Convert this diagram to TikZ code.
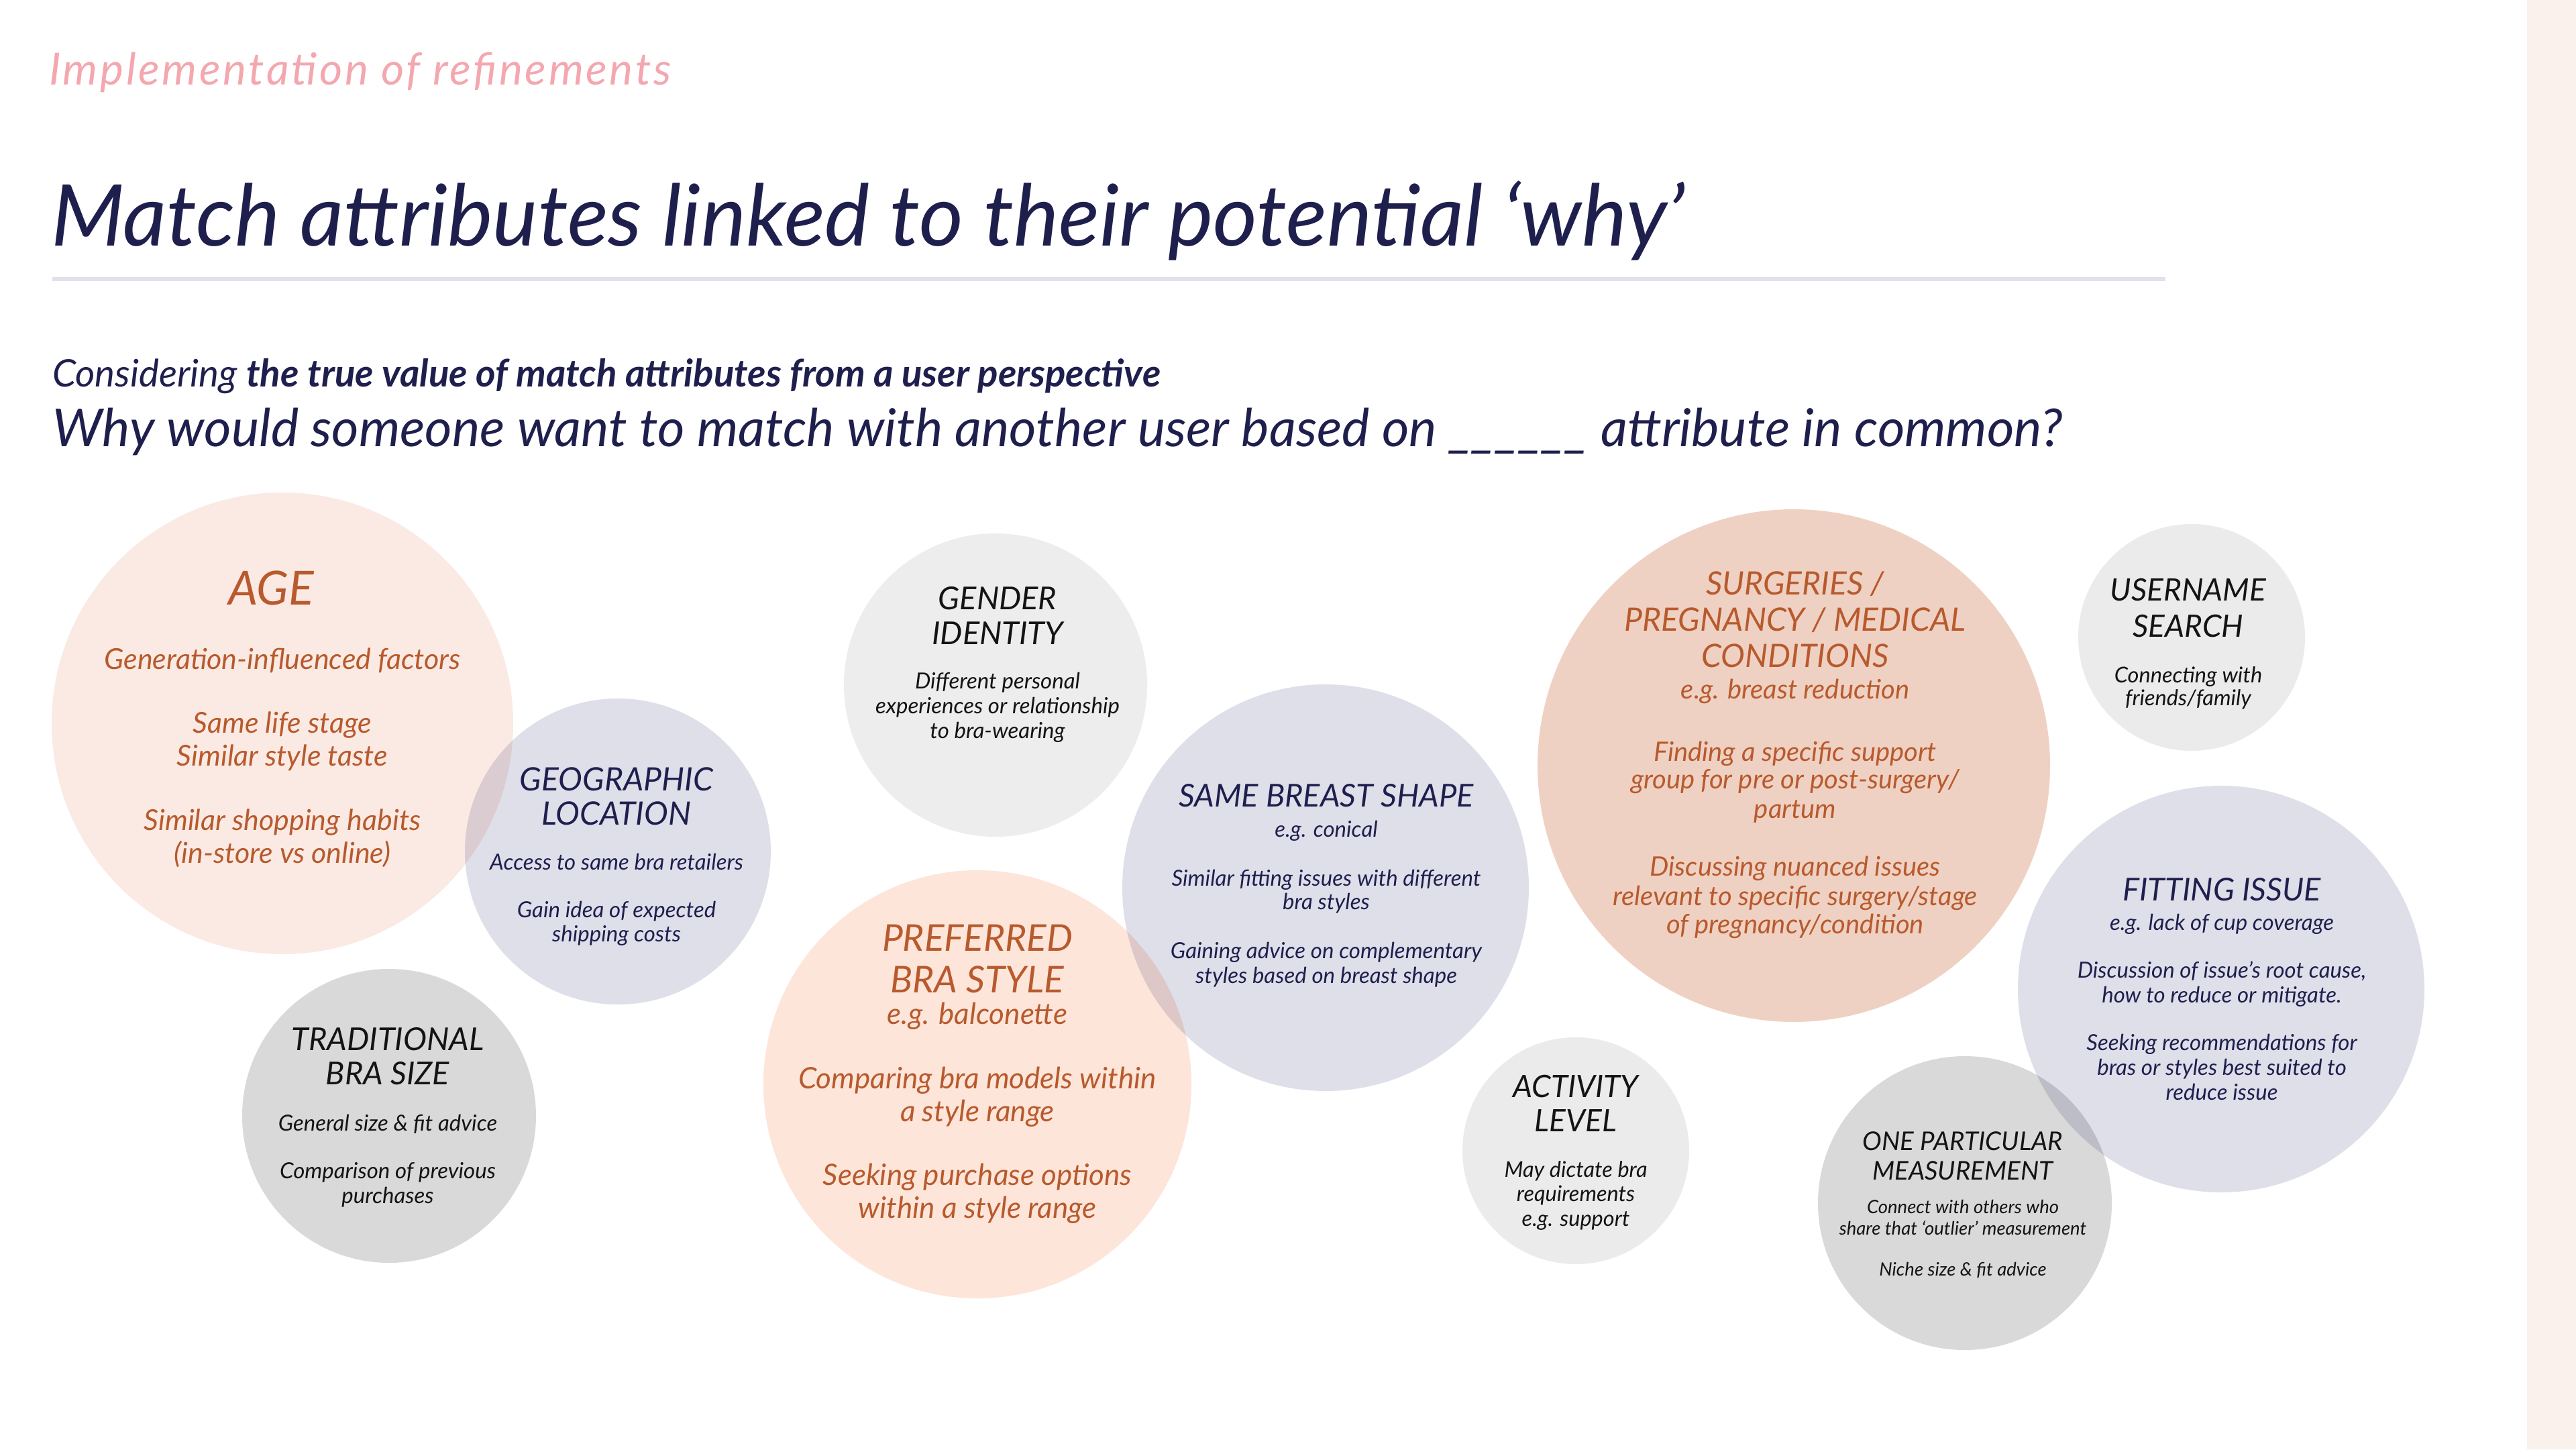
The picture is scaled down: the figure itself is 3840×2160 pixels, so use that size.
\documentclass[tikz,border=0pt]{standalone}
\usepackage{fontspec}
\setmainfont{Lato}[Ligatures=TeX]
\definecolor{navy}{HTML}{1F1F4E}
\definecolor{pinkt}{HTML}{F4A7AF}
\definecolor{orng}{HTML}{B85A2D}
\definecolor{ink}{HTML}{141414}
\definecolor{rulec}{HTML}{E1E1EC}
\definecolor{strip}{HTML}{FAF0EC}
\definecolor{peachA}{HTML}{FAEAE3}
\definecolor{peachB}{HTML}{FDE5D9}
\definecolor{peachC}{HTML}{EFD1C3}
\definecolor{lav}{HTML}{DFDFEA}
\definecolor{grayL}{HTML}{EDEDED}
\definecolor{grayM}{HTML}{EBEBEB}
\definecolor{grayD}{HTML}{D9D9D9}
\tikzset{
  bubble/.style={circle, inner sep=0pt, draw=none},
  tx/.style={inner sep=0pt, anchor=base, align=center},
  agehead/.style={tx, text=orng, font=\fontsize{70}{76}\selectfont\itshape, yshift=-24pt},
  agebody/.style={tx, text=orng, font=\fontsize{43}{48}\selectfont\itshape, yshift=-12pt},
  geohead/.style={tx, text=navy, font=\fontsize{48}{54}\selectfont\itshape, yshift=-17pt},
  geobody/.style={tx, text=navy, font=\fontsize{33}{38}\selectfont\itshape, yshift=-10pt},
  blkhead/.style={tx, text=ink, font=\fontsize{47}{52}\selectfont\itshape, yshift=-17pt},
  blkbody/.style={tx, text=ink, font=\fontsize{33}{38}\selectfont\itshape, yshift=-10pt},
  prefhead/.style={tx, text=orng, font=\fontsize{55}{62}\selectfont\itshape, yshift=-19pt},
  prefbody/.style={tx, text=orng, font=\fontsize{44}{50}\selectfont\itshape, yshift=-13pt},
  shapehead/.style={tx, text=navy, font=\fontsize{47}{52}\selectfont\itshape, yshift=-17pt},
  shapebody/.style={tx, text=navy, font=\fontsize{33}{38}\selectfont\itshape, yshift=-10pt},
  cblkhead/.style={tx, text=ink, font=\fontsize{46}{52}\selectfont\itshape, yshift=-16pt},
  cblkbody/.style={tx, text=ink, font=\fontsize{32.5}{38}\selectfont\itshape, yshift=-10pt},
  onehead/.style={tx, text=ink, font=\fontsize{38.5}{44}\selectfont\itshape, yshift=-14pt},
  onebody/.style={tx, text=ink, font=\fontsize{27.5}{32}\selectfont\itshape, yshift=-8pt},
  surghead/.style={tx, text=orng, font=\fontsize{48}{54}\selectfont\itshape, yshift=-17pt},
  surgbody/.style={tx, text=orng, font=\fontsize{40}{46}\selectfont\itshape, yshift=-12pt},
}
\begin{document}
\begin{tikzpicture}[x=1pt,y=-1pt]
\useasboundingbox (0,0) rectangle (3840,2160);
\fill[white] (0,0) rectangle (3840,2160);
\fill[strip] (3767,0) rectangle (3840,2160);

% headings
\node[anchor=base west, inner sep=0pt, text=pinkt, font=\fontsize{66}{72}\selectfont\itshape\addfontfeature{LetterSpace=5.5}] (kicker) at (73,126) {Implementation of refinements};
\node[anchor=base west, inner sep=0pt, text=navy, font=\fontsize{127}{134}\selectfont\itshape] (title) at (76,366) {Match attributes linked to their potential ‘why’};
\draw[rulec, line width=5.5pt] (78,416) -- (3228,416);
\node[anchor=base west, inner sep=0pt, text=navy, font=\fontsize{56.5}{62}\selectfont\itshape] (sub1) at (78,576) {Considering \bfseries the true value of match attributes from a user perspective};
\node[anchor=base west, inner sep=0pt, text=navy, font=\fontsize{78}{86}\selectfont\itshape] (sub2) at (78,665) {Why would someone want to match with another user based on \_\_\_\_\_\_ attribute in common?};

% bubbles
\node[bubble, fill=peachA, minimum size=688pt] (age) at (421,1078) {};
\node[bubble, fill=grayL, minimum size=452pt] (gender) at (1484,1021) {};
\node[bubble, fill=peachB, minimum size=638pt] (pref) at (1457,1616) {};
\node[bubble, fill=peachC, minimum size=764pt] (surg) at (2674,1141) {};
\node[bubble, fill=grayM, minimum size=338pt] (user) at (3267,950) {};
\node[bubble, fill=grayM, minimum size=338pt] (act) at (2349,1715) {};
\node[bubble, fill=grayD, minimum size=438pt] (trad) at (580,1663) {};
\node[bubble, fill=lav, minimum size=606pt] (fit) at (3311,1474) {};
\begin{scope}[blend mode=multiply]
\node[bubble, fill=lav, minimum size=456pt] (geo) at (921,1269) {};
\node[bubble, fill=lav, minimum size=606pt] (shape) at (1976,1323) {};
\node[bubble, fill=grayD, minimum size=438pt] (one) at (2929,1793) {};
\end{scope}

% AGE
\node[agehead] (ageT) at (404,877) {AGE};
\node[agebody] (age1) at (421,985) {Generation-influenced factors};
\node[agebody] (age2) at (421,1080) {Same life stage};
\node[agebody] (age3) at (421,1129) {Similar style taste};
\node[agebody] (age4) at (421,1225) {Similar shopping habits};
\node[agebody] (age5) at (421,1274) {(in-store vs online)};

% GEOGRAPHIC
\node[geohead] (geoT1) at (919,1161) {GEOGRAPHIC};
\node[geohead] (geoT2) at (919,1212) {LOCATION};
\node[geobody] (geo1) at (919,1286) {Access to same bra retailers};
\node[geobody] (geo2) at (919,1357) {Gain idea of expected};
\node[geobody] (geo3) at (919,1393) {shipping costs};

% TRADITIONAL
\node[blkhead] (tradT1) at (578,1548) {TRADITIONAL};
\node[blkhead] (tradT2) at (578,1599) {BRA SIZE};
\node[blkbody] (trad1) at (578,1675) {General size \& fit advice};
\node[blkbody] (trad2) at (578,1746) {Comparison of previous};
\node[blkbody] (trad3) at (578,1783) {purchases};

% GENDER
\node[blkhead] (genT1) at (1487,891) {GENDER};
\node[blkhead] (genT2) at (1487,943) {IDENTITY};
\node[blkbody] (gen1) at (1487,1016) {Different personal};
\node[blkbody] (gen2) at (1487,1053) {experiences or relationship};
\node[blkbody] (gen3) at (1487,1090) {to bra-wearing};

% PREFERRED
\node[prefhead] (prefT1) at (1457,1398) {PREFERRED};
\node[prefhead] (prefT2) at (1457,1460) {BRA STYLE};
\node[prefbody] (pref0) at (1457,1513) {e.g. balconette};
\node[prefbody] (pref1) at (1457,1609) {Comparing bra models within};
\node[prefbody] (pref2) at (1457,1658) {a style range};
\node[prefbody] (pref3) at (1457,1753) {Seeking purchase options};
\node[prefbody] (pref4) at (1457,1802) {within a style range};

% SAME BREAST SHAPE
\node[shapehead] (shapeT) at (1977,1185) {SAME BREAST SHAPE};
\node[shapebody] (shape0) at (1977,1237) {e.g. conical};
\node[shapebody] (shape1) at (1977,1310) {Similar fitting issues with different};
\node[shapebody] (shape2) at (1977,1345) {bra styles};
\node[shapebody] (shape3) at (1977,1418) {Gaining advice on complementary};
\node[shapebody] (shape4) at (1977,1455) {styles based on breast shape};

% ACTIVITY
\node[cblkhead] (actT1) at (2349,1619) {ACTIVITY};
\node[cblkhead] (actT2) at (2349,1670) {LEVEL};
\node[cblkbody] (act1) at (2349,1744) {May dictate bra};
\node[cblkbody] (act2) at (2349,1780) {requirements};
\node[cblkbody] (act3) at (2349,1817) {e.g. support};

% SURGERIES
\node[surghead] (surgT1) at (2676,869) {SURGERIES /};
\node[surghead] (surgT2) at (2676,923) {PREGNANCY / MEDICAL};
\node[surghead] (surgT3) at (2676,977) {CONDITIONS};
\node[surgbody] (surg0) at (2676,1029) {e.g. breast reduction};
\node[surgbody] (surg1) at (2676,1122) {Finding a specific support};
\node[surgbody] (surg2) at (2676,1163) {group for pre or post-surgery/};
\node[surgbody] (surg3) at (2676,1207) {partum};
\node[surgbody] (surg4) at (2676,1293) {Discussing nuanced issues};
\node[surgbody] (surg5) at (2676,1337) {relevant to specific surgery/stage};
\node[surgbody] (surg6) at (2676,1379) {of pregnancy/condition};

% USERNAME
\node[cblkhead] (userT1) at (3262,879) {USERNAME};
\node[cblkhead] (userT2) at (3262,933) {SEARCH};
\node[cblkbody] (user1) at (3262,1007) {Connecting with};
\node[cblkbody] (user2) at (3262,1041) {friends/family};

% FITTING ISSUE
\node[shapehead] (fitT) at (3312,1325) {FITTING ISSUE};
\node[shapebody] (fit0) at (3312,1376) {e.g. lack of cup coverage};
\node[shapebody] (fit1) at (3312,1447) {Discussion of issue’s root cause,};
\node[shapebody] (fit2) at (3312,1484) {how to reduce or mitigate.};
\node[shapebody] (fit3) at (3312,1555) {Seeking recommendations for};
\node[shapebody] (fit4) at (3312,1592) {bras or styles best suited to};
\node[shapebody] (fit5) at (3312,1629) {reduce issue};

% ONE PARTICULAR MEASUREMENT
\node[onehead] (oneT1) at (2926,1700) {ONE PARTICULAR};
\node[onehead] (oneT2) at (2926,1744) {MEASUREMENT};
\node[onebody] (one1) at (2926,1800) {Connect with others who};
\node[onebody] (one2) at (2926,1832) {share that ‘outlier’ measurement};
\node[onebody] (one3) at (2926,1893) {Niche size \& fit advice};
\end{tikzpicture}
\end{document}
